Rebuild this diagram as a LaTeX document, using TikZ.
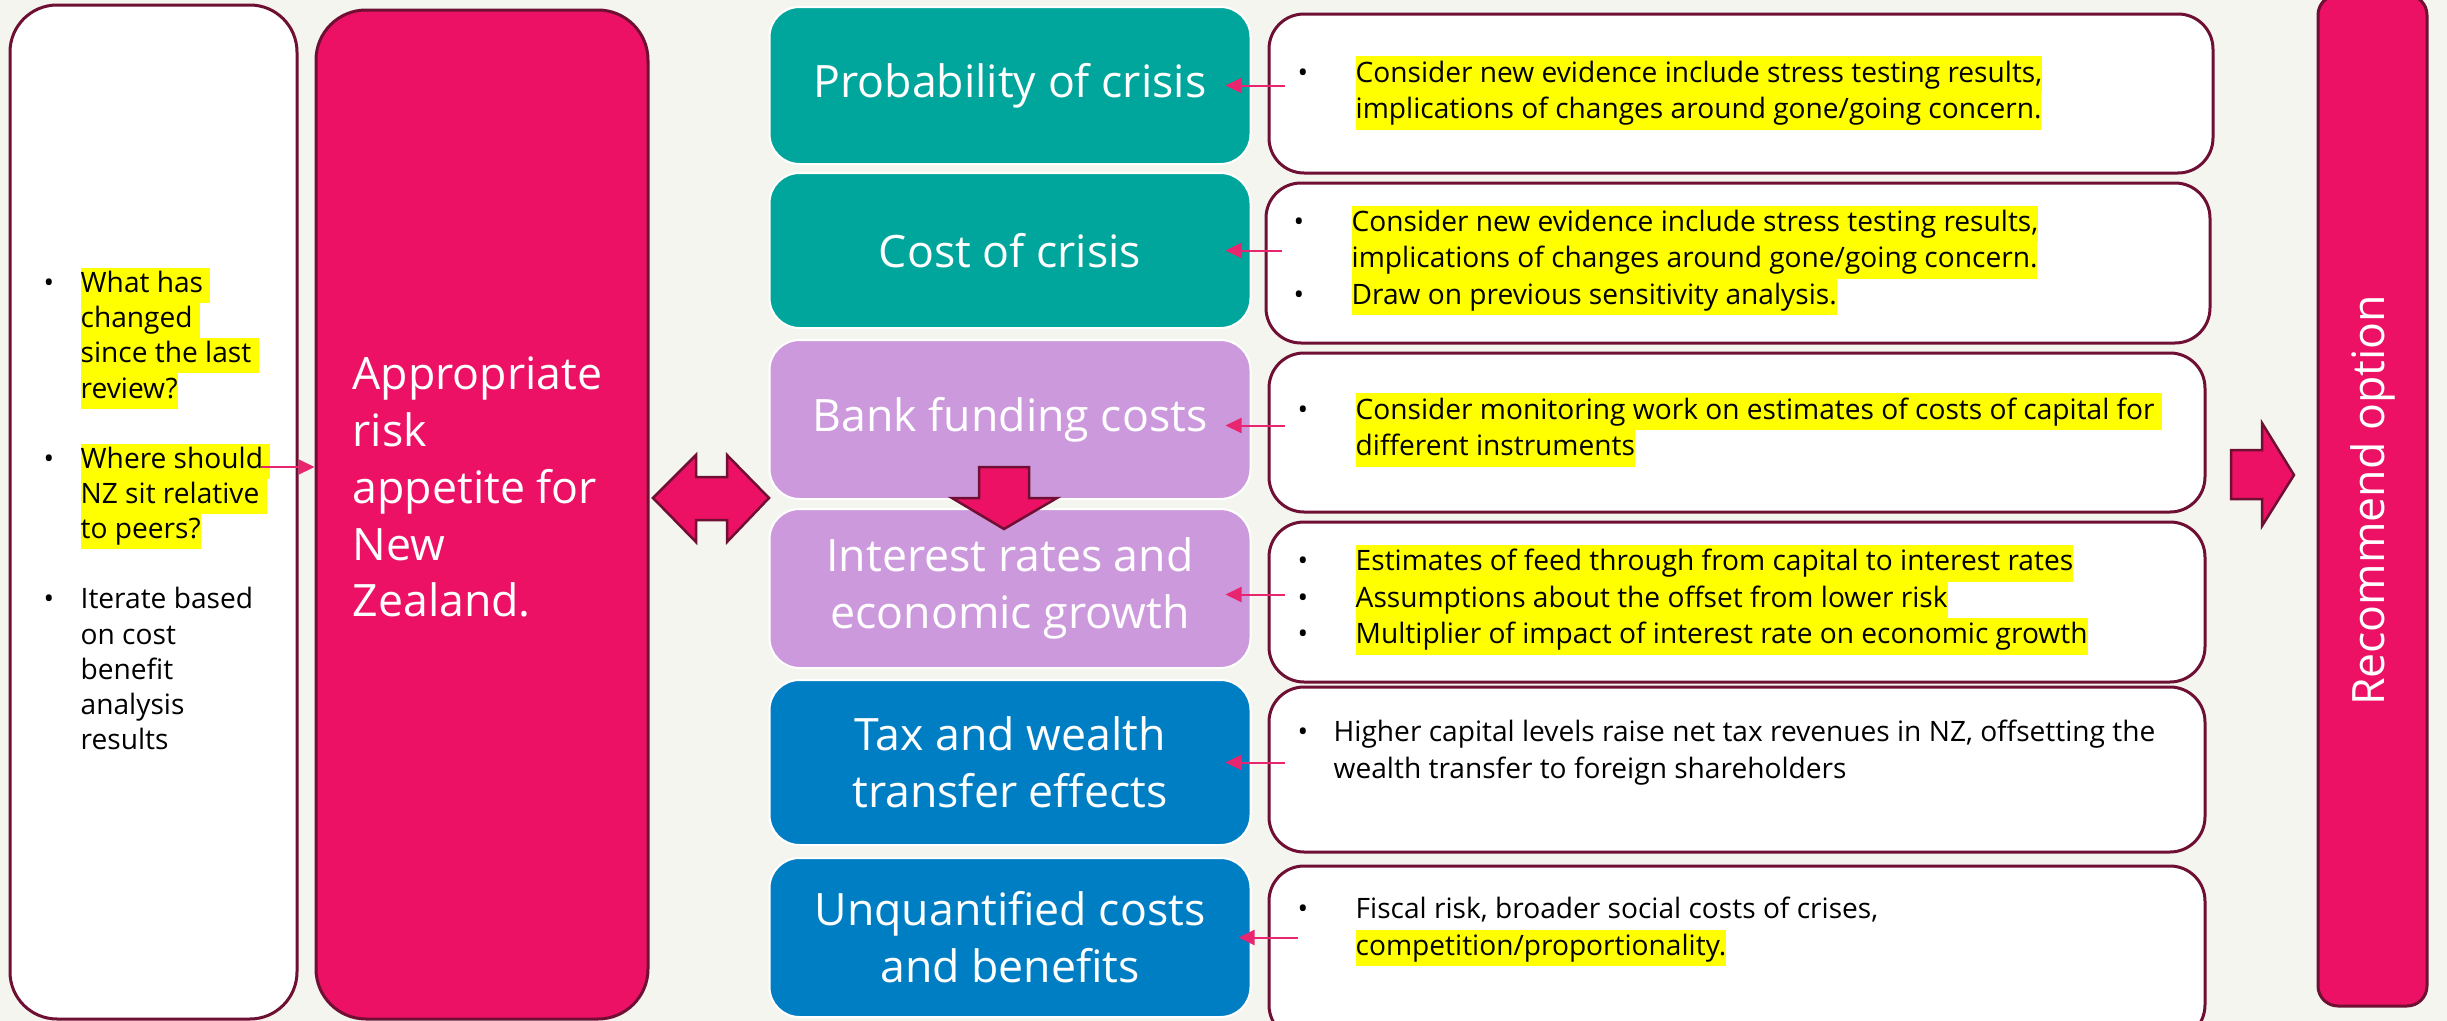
\documentclass[tikz,border=0pt]{standalone}
\usepackage{fontspec}
\setmainfont{Open Sans}
\usetikzlibrary{arrows.meta,calc}

% colours
\definecolor{bgcream}{HTML}{F5F5EF}
\definecolor{rbnzpink}{HTML}{EC1164}
\definecolor{rbnzmaroon}{HTML}{6E0F33}
\definecolor{rbnzteal}{HTML}{00A59C}
\definecolor{rbnzlilac}{HTML}{CD99DD}
\definecolor{rbnzblue}{HTML}{007EC4}
\definecolor{linkpink}{HTML}{E8266F}
\definecolor{hlyellow}{HTML}{FFFF00}

% fonts and text lines
\newcommand\bigfont{\fontsize{12.7}{16.2}\selectfont}
\newcommand\smallfont{\fontsize{8}{10}\selectfont}
\newcommand\notefont{\fontsize{8}{10.4}\selectfont}
\newcommand\hiline[1]{{\setlength{\fboxsep}{0pt}\colorbox{hlyellow}{\rule[-0.3\baselineskip]{0pt}{\baselineskip}#1}}}
\newcommand\txline[1]{\rule[-0.3\baselineskip]{0pt}{\baselineskip}#1}
\newcommand\bulitem[1][5.8mm]{\makebox[#1][l]{\textbullet}}
\newcommand\contitem[1][5.8mm]{\hspace*{#1}}

\begin{document}
\begin{tikzpicture}[x=0.1mm, y=-0.1mm,
    wbox/.style={rectangle, rounded corners=3.5mm, draw=rbnzmaroon, line width=0.3mm, fill=white, inner sep=0pt},
    pinkbox/.style={rectangle, fill=rbnzpink, draw=rbnzmaroon, line width=0.3mm, inner sep=0pt, text=white, font=\bigfont},
    cbox/.style={rectangle, rounded corners=3mm, draw=white, line width=0.2mm, inner sep=0pt, minimum width=48.1mm, text=white, font=\bigfont, align=center},
    note/.style={anchor=west, inner sep=0pt, align=left, font=\notefont},
    link/.style={draw=linkpink, line width=0.2mm, -{Triangle[length=1.6mm, width=1.5mm]}},
    bigarrow/.style={fill=rbnzpink, draw=rbnzmaroon, line width=0.25mm, line join=miter}]

    % Slide background
    \fill[bgcream] (0,0) rectangle (2447,1021);
    \useasboundingbox (0,0) rectangle (2447,1021);

    % Left column: questions and risk appetite
    \node[wbox, rounded corners=4.7mm, minimum width=28.7mm, minimum height=101.4mm] (review) at (153.5,512) {};
    \node[pinkbox, rounded corners=5mm, minimum width=33.2mm, minimum height=100.9mm] (appetite) at (482,514.5) {};

    \node[note, font=\smallfont] (reviewtext) at (43,514) {%
        \bulitem[3.7mm]\hiline{What has\ }\\
        \contitem[3.7mm]\hiline{changed\ }\\
        \contitem[3.7mm]\hiline{since the last\ }\\
        \contitem[3.7mm]\hiline{review?}\\
        \txline{}\\
        \bulitem[3.7mm]\hiline{Where should\ }\\
        \contitem[3.7mm]\hiline{NZ sit relative\ }\\
        \contitem[3.7mm]\hiline{to peers?}\\
        \txline{}\\
        \bulitem[3.7mm]\txline{Iterate based}\\
        \contitem[3.7mm]\txline{on cost}\\
        \contitem[3.7mm]\txline{benefit}\\
        \contitem[3.7mm]\txline{analysis}\\
        \contitem[3.7mm]\txline{results}};

    \node[anchor=west, inner sep=0pt, align=left, text=white, font=\bigfont] (appetitetext) at (352,487)
        {Appropriate\\ risk\\ appetite for\\ New\\ Zealand.};

    % Cost benefit components
    \foreach \i/\y/\bh/\bcol/\lab in {
        1/85.5/15.7/rbnzteal/{Probability of crisis},
        2/250.5/15.5/rbnzteal/{Cost of crisis},
        3/419.5/15.9/rbnzlilac/{Bank funding costs},
        4/588.5/15.9/rbnzlilac/{Interest rates and\\economic growth},
        5/762.5/16.5/rbnzblue/{Tax and wealth\\transfer effects},
        6/937.5/15.9/rbnzblue/{Unquantified costs\\and benefits}} {
        \node[cbox, fill=\bcol, minimum height=\bh mm] (c\i) at (1010,\y) {\lab};
    }

    % Evidence boxes
    \foreach \i/\x/\y/\w/\bh in {1/1741/93.5/94.4/15.9, 2/1738/263/94.4/16.0, 3/1737/432.5/93.6/15.9,
                                  4/1737/602/93.6/16.0, 5/1737/769.5/93.6/16.5, 6/1737/953/93.6/17.4} {
        \node[wbox, minimum width=\w mm, minimum height=\bh mm] (r\i) at (\x,\y) {};
    }

    \node[note] (t1) at (1297,93) {%
        \bulitem\hiline{Consider new evidence include stress testing results,}\\
        \contitem\hiline{implications of changes around gone/going concern.}};
    \node[note] (t2) at (1293,260.5) {%
        \bulitem\hiline{Consider new evidence include stress testing results,}\\
        \contitem\hiline{implications of changes around gone/going concern.}\\
        \bulitem\hiline{Draw on previous sensitivity analysis.}};
    \node[note] (t3) at (1297,430) {%
        \bulitem\hiline{Consider monitoring work on estimates of costs of capital for\ }\\
        \contitem\hiline{different instruments}};
    \node[note] (t4) at (1297,600) {%
        \bulitem\hiline{Estimates of feed through from capital to interest rates}\\
        \bulitem\hiline{Assumptions about the offset from lower risk}\\
        \bulitem\hiline{Multiplier of impact of interest rate on economic growth}};
    \node[note] (t5) at (1297,752.5) {%
        \bulitem[3.6mm]\txline{Higher capital levels raise net tax revenues in NZ, offsetting the}\\
        \contitem[3.6mm]\txline{wealth transfer to foreign shareholders}};
    \node[note] (t6) at (1297,929.5) {%
        \bulitem\txline{Fiscal risk, broader social costs of crises,}\\
        \contitem\hiline{competition/proportionality.}};

    % Recommendation
    \node[pinkbox, rounded corners=2mm, rotate=90, minimum width=101.1mm, minimum height=10.9mm] (recommend) at (2372.5,500.5) {Recommend option};

    % Block arrows
    \draw[bigarrow] (653,498) -- (696,455) -- (696,477) -- (727,477) -- (727,455) -- (769,498)
        -- (727,542) -- (727,520) -- (696,520) -- (696,542) -- cycle;
    \draw[bigarrow] (979,467) -- (1029,467) -- (1029,498) -- (1057,498) -- (1004,529) -- (952,498) -- (979,498) -- cycle;
    \draw[bigarrow] (2231,450) -- (2262,450) -- (2262,423) -- (2294,475) -- (2262,526) -- (2262,499) -- (2231,499) -- cycle;

    % Links from evidence to components
    \foreach \i/\a/\b/\dy in {1/17/26/0, 2/17/26/0, 3/17/26/6, 4/17/26/6, 5/17/26/0, 6/30/13/0} {
        \draw[link] ($(r\i.west |- c\i.east)+(\a,\dy)$) -- ($(c\i.east)+(-\b,\dy)$);
    }

    \coordinate (ws) at (261,467);
    \draw[link] (ws) -- (appetite.west |- ws);

\end{tikzpicture}
\end{document}
